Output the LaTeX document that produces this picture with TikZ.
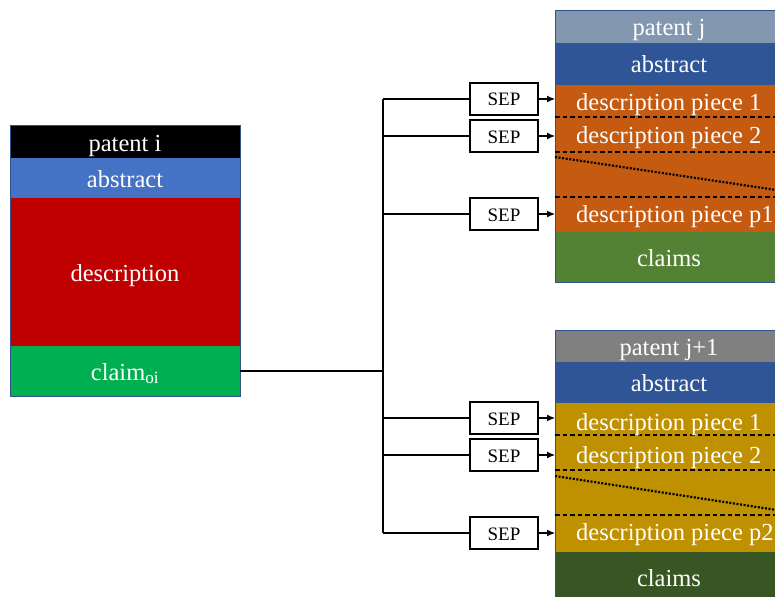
\documentclass[tikz,border=0pt]{standalone}
\usepackage{fontspec}
\setmainfont{Liberation Serif}
\usetikzlibrary{arrows.meta}
\definecolor{cBlack}{HTML}{000000}
\definecolor{cAbsL}{HTML}{4472C4}
\definecolor{cDescL}{HTML}{C00000}
\definecolor{cClaimL}{HTML}{00B050}
\definecolor{cHeadJ}{HTML}{8497B0}
\definecolor{cAbs}{HTML}{2F5597}
\definecolor{cDescJ}{HTML}{C55A11}
\definecolor{cClaimJ}{HTML}{548235}
\definecolor{cHeadK}{HTML}{808080}
\definecolor{cDescK}{HTML}{BF9000}
\definecolor{cClaimK}{HTML}{375623}
\definecolor{cEdge}{HTML}{2F528F}
\tikzset{
  sec/.style={rectangle, inner sep=0pt, outer sep=0pt, text=white, text height=18pt, text depth=0pt, font=\fontsize{24.5}{27}\selectfont},
  lsec/.style={sec, minimum width=230pt},
  rsec/.style={sec, minimum width=228pt},
  piece/.style={anchor=base west, inner sep=0pt, text=white, font=\fontsize{24.5}{27}\selectfont},
  sepbox/.style={rectangle, draw=black, line width=1.7pt, fill=white, minimum width=68pt, minimum height=32pt, inner sep=0pt, text height=14pt, text depth=0pt, font=\fontsize{19}{22}\selectfont},
  outline/.style={draw=cEdge, line width=1pt},
  divider/.style={line width=1.1pt, dash pattern=on 4.5pt off 3pt},
  cut/.style={line width=2.2pt, dash pattern=on 2pt off 1.6pt},
  wire/.style={line width=1.1pt},
  arr/.style={line width=1.1pt, -{Latex[length=8pt,width=7pt]}}
}
\begin{document}
\begin{tikzpicture}[x=1pt,y=-1pt]
\useasboundingbox (0,0) rectangle (775,596);
\clip (0,0) rectangle (775,596);
% left patent
\node[lsec, fill=cBlack, minimum height=32pt] (pi) at (125,142) {patent i};
\node[lsec, fill=cAbsL, minimum height=40pt] (ai) at (125,178) {abstract};
\node[lsec, fill=cDescL, minimum height=148pt] (di) at (125,272) {description};
\node[lsec, fill=cClaimL, minimum height=50pt] (ci) at (125,371) {claim\textsubscript{oi}};
\draw[outline] (pi.north west) rectangle (ci.south east);
% patent j
\node[rsec, fill=cHeadJ, minimum height=32pt] (pj) at (669,27) {patent j};
\node[rsec, fill=cAbs, minimum height=42pt] (aj) at (669,64) {abstract};
\node[rsec, fill=cDescJ, minimum height=147pt] (dj) at (669,158.5) {};
\node[rsec, fill=cClaimJ, minimum height=50pt] (cj) at (669,257) {claims};
\draw[outline] (pj.north west) rectangle (cj.south east);
\draw[divider] (555,117) -- (783,117);
\draw[divider] (555,152) -- (783,152);
\draw[divider] (555,197) -- (783,197);
\draw[cut] (555,157) -- (783,191);
\node[piece] (dj1) at (576,111) {description piece 1};
\node[piece] (dj2) at (576,144) {description piece 2};
\node[piece] (dj3) at (576,222) {description piece p1};
% patent j+1
\node[rsec, fill=cHeadK, minimum height=32pt] (pk) at (669,346) {patent j+1};
\node[rsec, fill=cAbs, minimum height=41pt] (ak) at (669,382.5) {abstract};
\node[rsec, fill=cDescK, minimum height=149pt] (dk) at (669,477.5) {};
\node[rsec, fill=cClaimK, minimum height=50pt] (ck) at (669,577) {claims};
\draw[outline] (pk.north west) rectangle (ck.south east);
\draw[divider] (555,435) -- (783,435);
\draw[divider] (555,470) -- (783,470);
\draw[divider] (555,515) -- (783,515);
\draw[cut] (555,476) -- (783,511);
\node[piece] (dk1) at (576,430) {description piece 1};
\node[piece] (dk2) at (576,463) {description piece 2};
\node[piece] (dk3) at (576,540.5) {description piece p2};
% SEP boxes
\node[sepbox] (s1) at (504,99) {SEP};
\node[sepbox] (s2) at (504,136) {SEP};
\node[sepbox] (s3) at (504,214) {SEP};
\node[sepbox] (s4) at (504,418) {SEP};
\node[sepbox] (s5) at (504,455) {SEP};
\node[sepbox] (s6) at (504,533) {SEP};
% wiring
\coordinate (t) at (383,371);
\draw[wire] (ci.east |- t) -- (t);
\draw[wire] (s1.west -| t) -- (s6.west -| t);
\foreach \s in {s1,s2,s3,s4,s5,s6} {
  \draw[wire] (\s.west -| t) -- (\s.west);
}
\foreach \s/\d in {s1/dj,s2/dj,s3/dj,s4/dk,s5/dk,s6/dk} {
  \draw[arr] (\s.east) -- (\s.east -| \d.west);
}
\end{tikzpicture}
\end{document}
